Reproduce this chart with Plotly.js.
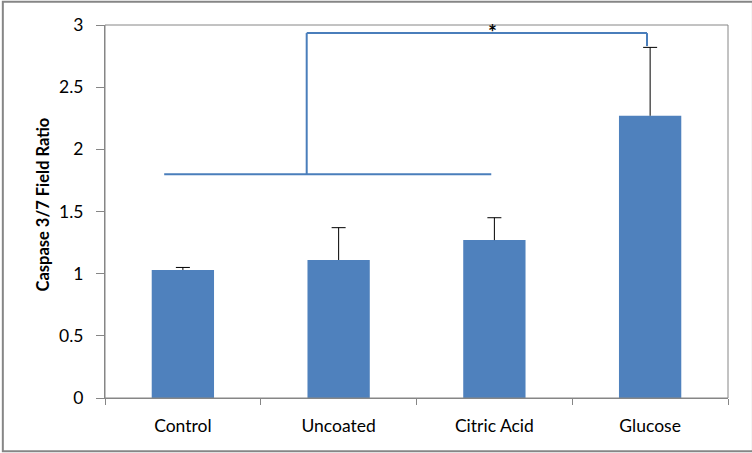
<!DOCTYPE html>
<html>
<head>
<meta charset="utf-8">
<script src="https://cdn.plot.ly/plotly-3.0.1.min.js"></script>
<style>html,body{margin:0;padding:0;background:#fff;}#chart{width:752px;height:453px;}</style>
</head>
<body>
<div id="chart"></div>
<script>
// Data
const categories = ["Control", "Uncoated", "Citric Acid", "Glucose"];
const means = [1.03, 1.11, 1.27, 2.27];
const errorsPlus = [0.02, 0.26, 0.18, 0.55];
const yTickVals = [0, 0.5, 1, 1.5, 2, 2.5, 3];
const yTickText = ["0", "0.5", "1", "1.5", "2", "2.5", "3"];
// Significance bracket (data units)
const groupLineX = [-0.12, 1.98];
const groupLineY = 1.8;
const bracketStartX = 0.795;
const bracketEndX = 2.98;
const bracketTopY = 2.935;
const bracketEndY = 2.83;
const starX = 1.99;
const starY = 2.985;

const blue = "#4F81BD";
const lineBlue = "#4A7EBB";
const gray = "#868686";
const font = "Lato, 'Open Sans', sans-serif";

const barTrace = {
  type: "bar",
  x: categories,
  y: means,
  marker: {color: blue},
  width: 0.4,
  error_y: {
    type: "data",
    symmetric: false,
    array: errorsPlus,
    arrayminus: means.map(() => 0),
    color: "#000",
    thickness: 1,
    width: 0
  },
  hoverinfo: "none"
};

// caps only at the top end of each error bar (plus-only Excel style)
const capTrace = {
  type: "scatter",
  mode: "markers",
  x: categories,
  y: means.map((m, i) => m + errorsPlus[i]),
  marker: {symbol: "line-ew-open", size: 10, color: "#000", line: {color: "#000", width: 1}},
  hoverinfo: "none"
};

const lineStyle = {color: lineBlue, width: 2};
const shapes = [
  {type: "rect", xref: "x domain", yref: "y domain", x0: 0, x1: 1, y0: 0, y1: 1, line: {color: gray, width: 1}},
  {type: "line", xref: "x", yref: "y", x0: groupLineX[0], x1: groupLineX[1], y0: groupLineY, y1: groupLineY, line: lineStyle},
  {type: "line", xref: "x", yref: "y", x0: bracketStartX, x1: bracketStartX, y0: groupLineY, y1: bracketTopY, line: lineStyle},
  {type: "line", xref: "x", yref: "y", x0: bracketStartX, x1: bracketEndX, y0: bracketTopY, y1: bracketTopY, line: lineStyle},
  {type: "line", xref: "x", yref: "y", x0: bracketEndX, x1: bracketEndX, y0: bracketTopY, y1: bracketEndY, line: lineStyle},
  {type: "rect", xref: "paper", yref: "paper", x0: -0.164, x1: 1.04, y0: -0.143, y1: 1.062, line: {color: gray, width: 2}}
];

const layout = {
  width: 752,
  height: 453,
  margin: {l: 105, r: 24, t: 25, b: 55},
  paper_bgcolor: "#fff",
  plot_bgcolor: "#fff",
  showlegend: false,
  font: {family: font, size: 18, color: "#000"},
  xaxis: {
    type: "category",
    range: [-0.5, 3.5],
    showline: true,
    linecolor: gray,
    linewidth: 1,
    ticks: "outside",
    tickson: "boundaries",
    ticklen: 6,
    tickcolor: gray,
    showgrid: false,
    zeroline: false,
    ticklabelstandoff: 12,
    tickfont: {family: font, size: 17.5, color: "#000"}
  },
  yaxis: {
    range: [0, 3],
    tickvals: yTickVals,
    ticktext: yTickText,
    showline: true,
    linecolor: gray,
    linewidth: 1,
    ticks: "outside",
    ticklen: 8,
    tickcolor: gray,
    showgrid: false,
    zeroline: false,
    ticklabelstandoff: 9,
    tickfont: {family: font, size: 17.5, color: "#000"}
  },
  shapes: shapes,
  annotations: [
    {text: "<b>Caspase 3/7 Field Ratio</b>", xref: "paper", yref: "paper", x: -0.1, y: 0.518,
     xanchor: "center", yanchor: "middle", textangle: -90, showarrow: false,
     font: {family: font, size: 16.5, color: "#000"}},
    {text: "<b>*</b>", xref: "x", yref: "y", x: starX, y: starY, xanchor: "center", yanchor: "middle",
     yshift: -5, showarrow: false, font: {family: font, size: 21, color: "#000"}}
  ]
};

Plotly.newPlot("chart", [barTrace, capTrace], layout, {staticPlot: true, displayModeBar: false});
</script>
</body>
</html>
